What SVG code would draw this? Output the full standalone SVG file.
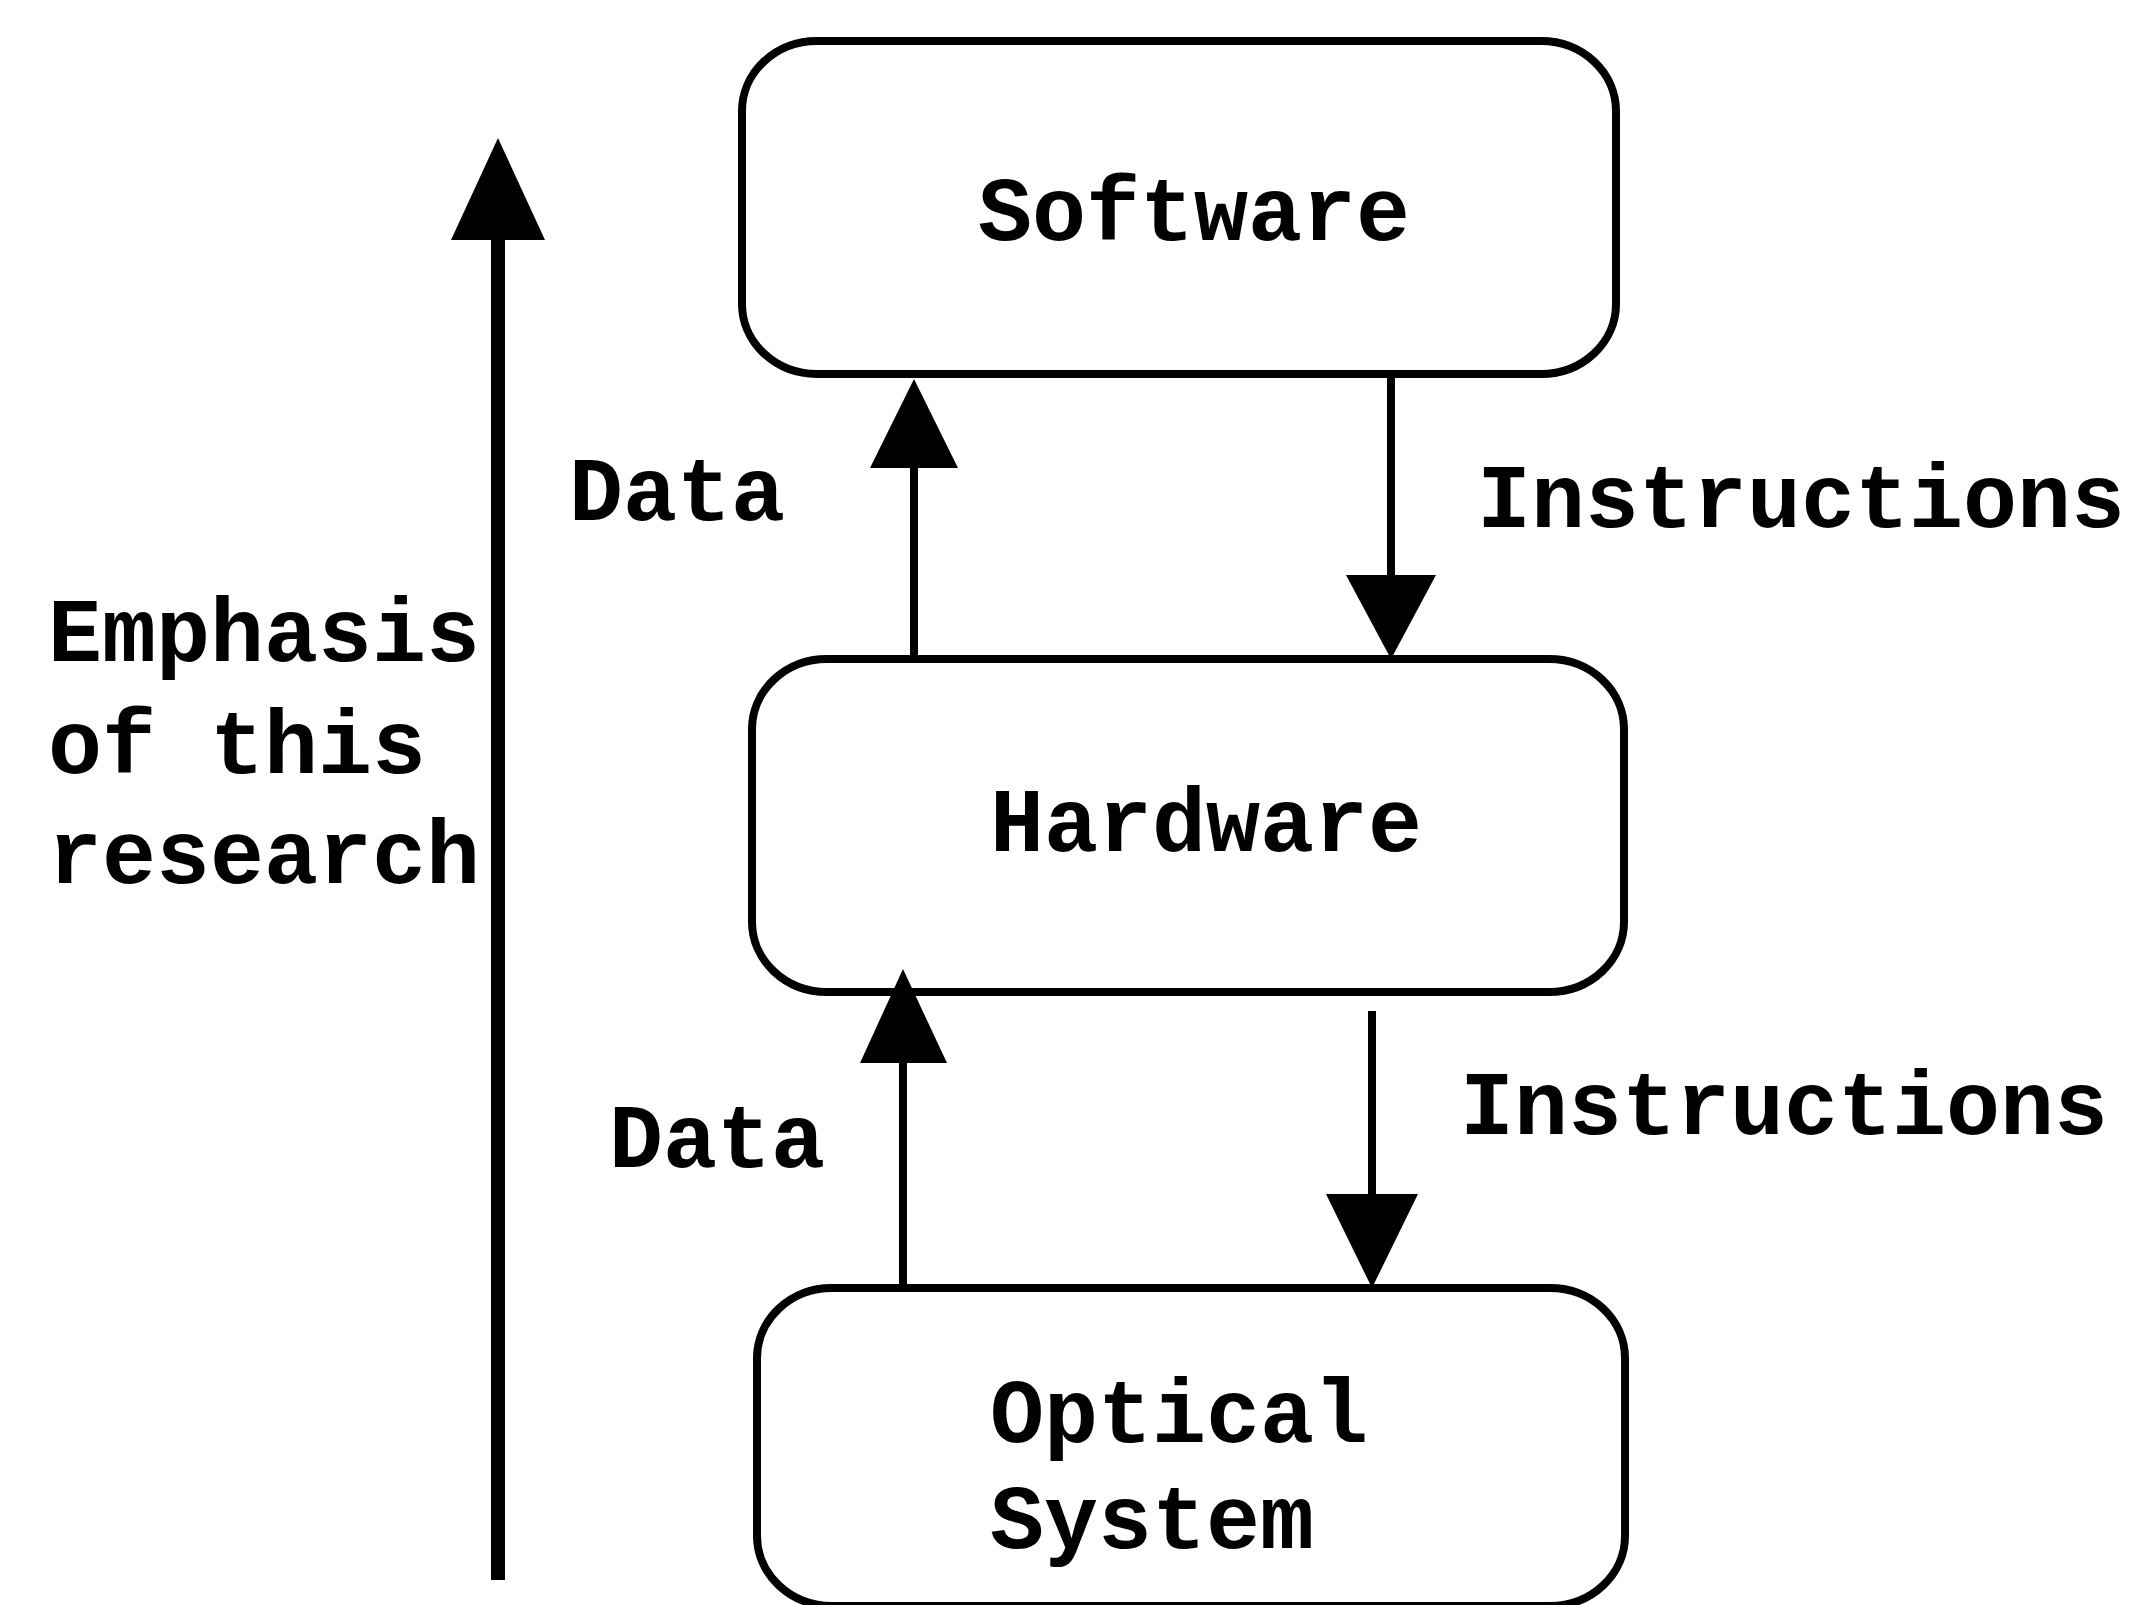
<svg xmlns="http://www.w3.org/2000/svg" width="2135" height="1605" viewBox="0 0 2135 1605">
  <style>
    .box { fill: #ffffff; stroke: #000000; stroke-width: 8; }
    .lbl { font-family: "Liberation Mono", "Courier New", monospace; font-weight: bold; font-size: 90px; fill: #000000; }
    .wire { stroke: #000000; stroke-width: 8; fill: none; }
    .head { fill: #000000; stroke: none; }
  </style>
  <rect width="2135" height="1605" fill="#ffffff"/>

  <g id="software">
    <rect class="box" x="742" y="41" width="874" height="333" rx="75" ry="70"/>
    <text class="lbl" x="978" y="240">Software</text>
  </g>

  <g id="hardware">
    <rect class="box" x="752" y="659" width="872" height="333" rx="75" ry="70"/>
    <text class="lbl" x="990" y="851">Hardware</text>
  </g>

  <g id="optical-system">
    <rect class="box" x="757" y="1288" width="868" height="318" rx="75" ry="70"/>
    <text class="lbl" x="990" y="1442">Optical</text>
    <text class="lbl" x="990" y="1548">System</text>
  </g>

  <g id="emphasis">
    <text class="lbl" x="48" y="661">Emphasis</text>
    <text class="lbl" x="48" y="773">of this</text>
    <text class="lbl" x="48" y="883">research</text>
  </g>

  <g id="connectors">
    <!-- emphasis axis -->
    <line x1="498" y1="1580" x2="498" y2="230" stroke="#000" stroke-width="14"/>
    <polygon class="head" points="498,138 451,240 545,240"/>

    <!-- hardware to software: data -->
    <line class="wire" x1="914" y1="659" x2="914" y2="460"/>
    <polygon class="head" points="914,379 870,468 958,468"/>
    <text class="lbl" x="569" y="520">Data</text>

    <!-- software to hardware: instructions -->
    <line class="wire" x1="1391" y1="374" x2="1391" y2="585"/>
    <polygon class="head" points="1391,659 1346,575 1436,575"/>
    <text class="lbl" x="1477" y="527">Instructions</text>

    <!-- optical system to hardware: data -->
    <line class="wire" x1="903" y1="1288" x2="903" y2="1055"/>
    <polygon class="head" points="903,969 860,1063 947,1063"/>
    <text class="lbl" x="609" y="1167">Data</text>

    <!-- hardware to optical system: instructions -->
    <line class="wire" x1="1372" y1="1011" x2="1372" y2="1200"/>
    <polygon class="head" points="1372,1288 1326,1194 1418,1194"/>
    <text class="lbl" x="1460" y="1134">Instructions</text>
  </g>
</svg>
